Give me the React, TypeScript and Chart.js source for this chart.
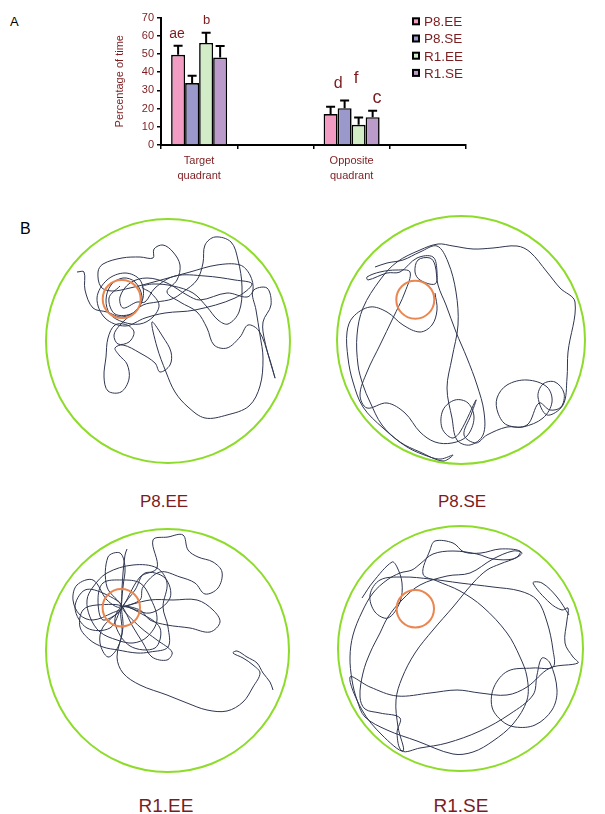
import React, { useEffect, useRef } from "react";
import { Chart, registerables } from "chart.js";

Chart.register(...registerables);
Chart.defaults.font.family = "'Liberation Sans', Arial, Helvetica, sans-serif";

// ---------- Panel A: time spent per quadrant ----------
const CATEGORIES = [["Target", "quadrant"], "", ["Opposite", "quadrant"], ""];
const GROUPS = ["P8.EE", "P8.SE", "R1.EE", "R1.SE"];
const P8_EE = [49.5, null, 17, null];
const P8_SE = [34, null, 20.2, null];
const R1_EE = [56, null, 11.1, null];
const R1_SE = [48, null, 15.3, null];
const P8_EE_SEM = [5, null, 4, null];
const P8_SE_SEM = [4, null, 4.2, null];
const R1_EE_SEM = [5.6, null, 4, null];
const R1_SE_SEM = [6.3, null, 3.5, null];
const Y_TICKS = [0, 10, 20, 30, 40, 50, 60, 70];
// significance letters: group index, category index, text, baseline height (% of time)
const SIG_LETTERS: [number, number, string, number][] = [
  [0, 0, "ae", 58.9],
  [2, 0, "b", 66.4],
  [0, 2, "d", 31.1],
  [2, 2, "f", 33.9],
  [3, 2, "c", 22.9],
];

// ---------- Panel B: swim paths (arena pixel units, origin at arena top-left) ----------
const PATH_P8_EE = [
  [32,54],[39,54],[40,72],[48,90],[62,94],[77,99],[92,92],[97,79],[90,64],[78,60],[66,67],[61,82],[65,96],[78,104],[95,106],[108,99],[114,87],[106,75],[97,69],[108,66],[128,68],[148,75],[162,89],[173,102],[183,106],[194,94],[197,69],[193,42],[186,24],[170,19],[160,27],[158,45],[152,62],[138,74],[127,81],[112,84],[98,87],[87,96],[75,107],[69,117],[73,126],[84,124],[89,114],[82,107],[70,107],[63,120],[61,139],[59,159],[63,173],[76,174],[84,161],[82,146],[74,137],[70,130],[78,127],[95,135],[110,145],[115,154],[125,147],[126,134],[118,119],[107,104],[112,129],[121,154],[130,174],[143,189],[160,200],[182,197],[204,188],[215,168],[218,140],[215,117],[211,92],[208,73],[222,70],[226,87],[218,104],[220,124],[230,160],[224,139],[214,113],[203,107],[195,119],[182,130],[169,127],[162,110],[152,94],[135,84],[122,74],[132,62],[135,47],[128,34],[118,27],[109,31],[108,40],[95,39],[77,40],[58,46],[53,54],[56,69],[67,73],[85,70],[105,65],[145,54],[172,47],[195,47],[205,57],[208,72],[202,79],[182,75],[155,82],[142,77],[122,65],[102,60],[85,65],[75,79],[78,90],[92,84],[100,84],
  [110,70],[130,58],[160,58],[190,62],[207,66],[190,80],[150,92],[120,95],[100,100],[80,108],[60,100],[52,80],[62,62],[80,55],[95,62],[98,80],[88,95],[70,96],[64,80],[75,68]
];
const PATH_P8_SE = [
  [39,52],[51,48],[67,45],[84,37],[101,31],[112,47],[120,77],[122,110],[116,143],[111,173],[116,203],[121,225],[134,230],[147,220],[148,197],[141,170],[131,143],[120,117],[110,90],[102,70],[99,50],[94,43],[82,45],[79,57],[84,65],[99,69],[101,57],[97,42],[81,43],[64,57],[51,58],[32,65],[31,62],[44,57],[61,55],[74,57],[69,77],[57,103],[44,130],[31,157],[24,180],[31,193],[51,188],[69,198],[84,217],[99,227],[116,228],[131,221],[138,203],[132,188],[119,185],[107,195],[106,213],[116,223],[124,217],[140,185],[135,200],[128,220],[140,228],[151,220],[171,212],[187,212],[207,203],[216,187],[211,172],[191,165],[171,170],[161,183],[162,198],[171,210],[191,210],[203,188],[214,195],[225,192],[228,178],[219,167],[207,169],[202,182],[211,200],[227,190],[231,163],[232,137],[239,87],[224,73],[211,57],[194,37],[181,31],[157,33],[137,34],[117,31],[102,29],[84,35],[61,47],[44,65],[27,93],[21,120],[22,150],[27,170],[34,187],[46,210],[64,227],[84,237],[107,246],[117,240],[105,244],[94,242],[71,232],[47,213],[27,192],[17,167],[12,143],[11,117],[17,102],[34,92],[51,97],[67,110],[84,117],[96,110],[101,95],[99,78]
];
const PATH_R1_EE = [
  [82,21],[80,27],[78,45],[77,60],[75,79],[62,72],[48,52],[32,57],[28,72],[35,87],[48,92],[67,85],[77,79],[62,59],[63,29],[75,25],[80,39],[78,59],[77,79],[95,49],[112,40],[108,12],[123,9],[138,7],[143,22],[153,29],[168,34],[177,44],[173,60],[160,66],[150,55],[135,49],[115,44],[98,59],[95,72],[77,79],[105,72],[128,72],[152,72],[168,82],[175,94],[165,104],[145,100],[122,97],[105,92],[95,82],[77,79],[95,99],[112,112],[127,124],[122,132],[107,129],[98,115],[88,99],[77,79],[78,99],[73,119],[63,129],[55,115],[58,99],[77,79],[52,77],[38,82],[35,99],[45,112],[58,119],[73,122],[92,125],[105,124],[123,119],[123,99],[118,79],[122,55],[112,40],[88,37],[62,45],[48,59],[42,72],[45,89],[55,104],[72,112],[88,115],[102,109],[112,92],[105,69],[95,55],[77,52],[58,55],[53,72],[58,92],[77,79],
  [60,66],[40,62],[30,80],[42,100],[65,100],[77,79],[90,62],[100,45],[120,50],[125,70],[105,85],[77,79],[70,95],[85,118],[110,120],[115,100],[95,85],[77,79],
  [77,105],[72,129],[78,145],[95,157],[122,167],[142,175],[162,182],[182,183],[198,174],[208,159],[215,145],[208,137],[198,130],[188,125],[192,123],[202,129],[212,135],[218,145],[225,154],[228,162]
];
const PATH_R1_SE = [
  [25,73],[36,57],[55,37],[60,42],[65,58],[63,77],[51,93],[38,87],[33,70],[43,55],[66,52],[93,54],[123,58],[156,62],[183,66],[200,75],[210,97],[216,125],[216,142],[196,143],[171,146],[157,162],[155,182],[165,196],[178,202],[198,200],[215,185],[220,165],[213,138],[205,133],[200,150],[196,170],[173,189],[143,206],[110,218],[83,223],[65,226],[60,208],[63,193],[43,188],[28,184],[23,172],[26,148],[33,128],[43,108],[51,92],[65,75],[83,60],[110,51],[133,48],[156,34],[176,26],[185,28],[176,34],[156,34],[140,29],[116,26],[96,29],[83,39],[75,45],[63,48],[50,55],[36,68],[25,87],[16,110],[13,132],[15,155],[20,175],[28,192],[50,205],[80,216],[116,229],[136,227],[156,216],[176,199],[190,175],[190,152],[183,132],[170,108],[146,82],[123,66],[100,56],[86,49],[93,25],[98,16],[116,18],[127,27],[144,28],[163,24],[183,26],[180,32],[163,39],[150,45],[136,58],[116,82],[96,105],[78,128],[65,153],[59,175],[61,202],[66,226],[45,210],[25,185],[13,152],[33,162],[60,171],[93,168],[120,165],[143,168],[170,170],[190,162],[213,143],[241,138],[236,132],[228,118],[230,95],[231,83],[225,85],[213,78],[196,58],[205,58],[220,72],[232,90]
];
// escape platform: centre x, centre y, radius (arena pixel units)
const PLATFORM_P8_EE = [76.7, 81, 19];
const PLATFORM_P8_SE = [79.3, 84.7, 19];
const PLATFORM_R1_EE = [76.3, 79.7, 18.7];
const PLATFORM_R1_SE = [78.3, 83.7, 18.7];

const TEXT_RED = "#7d1c1f";
const BAR_COLORS = ["#f29bc3", "#9b98cc", "#d3ecc8", "#bb9bc9"];
const POOL_GREEN = "#8edc2a";
const PLATFORM_ORANGE = "#ea864f";
const PATH_COLOR = "#2e3650";
const LETTER_STYLE: Record<string, { dx: number; size: number }> = {
  ae: { dx: -1, size: 14 },
  b: { dx: 0.5, size: 13 },
  d: { dx: 7.7, size: 16 },
  f: { dx: -2.4, size: 17 },
  c: { dx: 4.4, size: 18 },
};

const SERIES = [P8_EE, P8_SE, R1_EE, R1_SE];
const SEMS = [P8_EE_SEM, P8_SE_SEM, R1_EE_SEM, R1_SE_SEM];

const errorBarPlugin = {
  id: "errorBars",
  afterDatasetsDraw(chart: any) {
    const ctx = chart.ctx;
    const y = chart.scales.y;
    ctx.save();
    ctx.strokeStyle = "#000";
    ctx.lineWidth = 2;
    chart.data.datasets.forEach((ds: any, i: number) => {
      const meta = chart.getDatasetMeta(i);
      ds.data.forEach((v: number | null, j: number) => {
        const err = SEMS[i][j];
        if (v == null || err == null) return;
        const el = meta.data[j];
        const top = y.getPixelForValue(v + err);
        ctx.beginPath();
        ctx.moveTo(el.x, el.y);
        ctx.lineTo(el.x, top);
        ctx.moveTo(el.x - 4.5, top);
        ctx.lineTo(el.x + 4.5, top);
        ctx.stroke();
      });
    });
    ctx.restore();
  },
};

const letterPlugin = {
  id: "sigLetters",
  afterDatasetsDraw(chart: any) {
    const ctx = chart.ctx;
    const y = chart.scales.y;
    ctx.save();
    ctx.fillStyle = TEXT_RED;
    ctx.textAlign = "center";
    ctx.textBaseline = "alphabetic";
    SIG_LETTERS.forEach(([g, c, text, h]) => {
      const el = chart.getDatasetMeta(g).data[c];
      const st = LETTER_STYLE[text];
      ctx.font = `${st.size}px 'Liberation Sans', Arial, sans-serif`;
      ctx.fillText(text, el.x + st.dx, y.getPixelForValue(h));
    });
    ctx.restore();
  },
};

const legendPlugin = {
  id: "boxLegend",
  afterDraw(chart: any) {
    const ctx = chart.ctx;
    const x0 = chart.chartArea.right - 54;
    const y0 = 21.3;
    const gap = 17.2;
    ctx.save();
    ctx.font = "13.5px 'Liberation Sans', Arial, sans-serif";
    ctx.textBaseline = "alphabetic";
    ctx.textAlign = "left";
    chart.data.datasets.forEach((ds: any, i: number) => {
      const cy = y0 + i * gap;
      ctx.fillStyle = ds.backgroundColor;
      ctx.fillRect(x0 + 1, cy - 3, 6, 6);
      ctx.strokeStyle = "#000";
      ctx.lineWidth = 2;
      ctx.strokeRect(x0 + 1, cy - 3, 6, 6);
      ctx.fillStyle = TEXT_RED;
      ctx.fillText(ds.label, x0 + 12, cy + 4.8);
    });
    ctx.restore();
  },
};

function BarPanel() {
  const ref = useRef<HTMLCanvasElement | null>(null);
  useEffect(() => {
    const chart = new Chart(ref.current as HTMLCanvasElement, {
      type: "bar",
      data: {
        labels: CATEGORIES as any,
        datasets: GROUPS.map((g, i) => ({
          label: g,
          data: SERIES[i] as any,
          backgroundColor: BAR_COLORS[i],
          borderColor: "#000",
          borderWidth: 1.6,
          borderSkipped: "bottom" as const,
          barPercentage: 1,
          categoryPercentage: 0.735,
        })),
      },
      options: {
        animation: false,
        responsive: false,
        maintainAspectRatio: false,
        layout: { padding: { left: 111, right: 139, top: 17.5, bottom: 0 } },
        plugins: { legend: { display: false }, tooltip: { enabled: false } },
        scales: {
          x: {
            grid: { display: true, drawOnChartArea: false, offset: true, tickLength: 4, color: "#000", lineWidth: 1.5 },
            border: { display: true, color: "#000", width: 2 },
            ticks: { color: TEXT_RED, font: { size: 11, lineHeight: 1.35 }, padding: 5, maxRotation: 0, autoSkip: false },
            afterFit: (s: any) => { s.height = 55; },
          },
          y: {
            min: 0,
            max: 70,
            afterBuildTicks: (s: any) => { s.ticks = Y_TICKS.map((v) => ({ value: v })); },
            grid: { drawOnChartArea: false, tickLength: 4, color: "#000", lineWidth: 1.5 },
            border: { display: true, color: "#000", width: 2 },
            ticks: { color: TEXT_RED, font: { size: 11 }, padding: 3 },
            title: { display: true, text: "Percentage of time", color: TEXT_RED, font: { size: 11 }, padding: { top: 2, bottom: 0 } },
            afterFit: (s: any) => { s.width = 50; },
          },
        },
      },
      plugins: [errorBarPlugin, letterPlugin, legendPlugin],
    });
    return () => chart.destroy();
  }, []);
  return (
    <canvas
      ref={ref}
      width={605}
      height={200}
      style={{ position: "absolute", left: 0, top: 0, width: 605, height: 200 }}
    />
  );
}

const PAD = 3;

const arenaPlugin = {
  id: "arena",
  beforeDatasetsDraw(chart: any, _a: any, opts: any) {
    const ctx = chart.ctx;
    const xs = chart.scales.x;
    const ys = chart.scales.y;
    const half = opts.size / 2;
    const cx = xs.getPixelForValue(half);
    const cy = ys.getPixelForValue(half);
    const r = xs.getPixelForValue(opts.size) - cx - 1;
    ctx.save();
    ctx.strokeStyle = POOL_GREEN;
    ctx.lineWidth = 2;
    ctx.beginPath();
    ctx.arc(cx, cy, r, 0, Math.PI * 2);
    ctx.stroke();
    ctx.restore();
  },
  afterDatasetsDraw(chart: any, _a: any, opts: any) {
    const ctx = chart.ctx;
    const xs = chart.scales.x;
    const ys = chart.scales.y;
    const [px, py, pr] = opts.platform;
    const cx = xs.getPixelForValue(px);
    const cy = ys.getPixelForValue(py);
    const r = xs.getPixelForValue(px + pr) - cx;
    ctx.save();
    ctx.strokeStyle = PLATFORM_ORANGE;
    ctx.lineWidth = 2;
    ctx.beginPath();
    ctx.arc(cx, cy, r, 0, Math.PI * 2);
    ctx.stroke();
    ctx.restore();
  },
};

function Arena({ path, platform, left, top, size }: { path: number[][]; platform: number[]; left: number; top: number; size: number }) {
  const ref = useRef<HTMLCanvasElement | null>(null);
  useEffect(() => {
    const chart = new Chart(ref.current as HTMLCanvasElement, {
      type: "scatter",
      data: {
        datasets: [
          {
            data: path.map(([x, y]) => ({ x, y })),
            showLine: true,
            borderColor: PATH_COLOR,
            borderWidth: 1,
            pointRadius: 0,
            tension: 0.35,
          },
        ],
      },
      options: {
        animation: false,
        responsive: false,
        maintainAspectRatio: false,
        layout: { padding: 0 },
        plugins: {
          legend: { display: false },
          tooltip: { enabled: false },
          arena: { size, platform },
        } as any,
        scales: {
          x: { type: "linear", display: false, min: -PAD, max: size + PAD },
          y: { type: "linear", display: false, min: -PAD, max: size + PAD, reverse: true },
        },
      },
      plugins: [arenaPlugin],
    });
    return () => chart.destroy();
  }, []);
  const dim = size + 2 * PAD;
  return (
    <canvas
      ref={ref}
      width={dim}
      height={dim}
      style={{ position: "absolute", left: left - PAD, top: top - PAD, width: dim, height: dim }}
    />
  );
}

const labelStyle = (cx: number, top: number, size: number): React.CSSProperties => ({
  position: "absolute",
  left: cx - 60,
  width: 120,
  top,
  textAlign: "center",
  fontSize: size,
  lineHeight: `${size}px`,
  color: TEXT_RED,
  fontFamily: "'Liberation Sans', Arial, sans-serif",
  whiteSpace: "nowrap",
});

export default function App() {
  return (
    <div style={{ position: "absolute", left: 0, top: 0, width: 605, height: 814, background: "#fff", overflow: "hidden" }}>
      <div style={{ position: "absolute", left: 10, top: 15, fontSize: 13, lineHeight: "13px", fontFamily: "'Liberation Sans', Arial, sans-serif", color: "#000" }}>A</div>
      <BarPanel />
      <div style={{ position: "absolute", left: 20, top: 221, fontSize: 16, lineHeight: "16px", fontFamily: "'Liberation Sans', Arial, sans-serif", color: "#000" }}>B</div>
      <Arena path={PATH_P8_EE} platform={PLATFORM_P8_EE} left={45} top={218} size={246} />
      <Arena path={PATH_P8_SE} platform={PLATFORM_P8_SE} left={336} top={215} size={250} />
      <Arena path={PATH_R1_EE} platform={PLATFORM_R1_EE} left={45} top={528} size={245} />
      <Arena path={PATH_R1_SE} platform={PLATFORM_R1_SE} left={337} top={525} size={247} />
      <div style={labelStyle(164, 493, 17)}>P8.EE</div>
      <div style={labelStyle(462, 493, 17)}>P8.SE</div>
      <div style={labelStyle(166, 796, 19)}>R1.EE</div>
      <div style={labelStyle(461, 796, 19)}>R1.SE</div>
    </div>
  );
}
